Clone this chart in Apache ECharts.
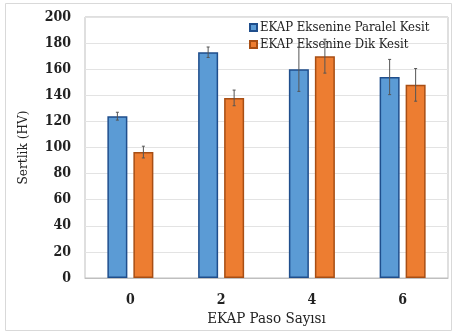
<!DOCTYPE html>
<html><head><meta charset="utf-8">
<script src="https://cdn.jsdelivr.net/npm/echarts@6/dist/echarts.min.js"></script>
<style>html,body{margin:0;padding:0;background:#fff}#c{width:457px;height:333px}</style>
</head><body><div id="c"></div>
<script>
const categories = ['0', '2', '4', '6'];
const seriesNames = ['EKAP Eksenine Paralel Kesit', 'EKAP Eksenine Dik Kesit'];
const paralelValues = [124, 173, 160, 154];
const paralelErrors = [3, 4, 17, 13.5];
const dikValues = [96.5, 138, 170, 148];
const dikErrors = [4.5, 6, 13, 12.5];
const yTicks = { min: 0, max: 200, interval: 20 };
const axisTitles = { x: 'EKAP Paso Sayısı', y: 'Sertlik (HV)' };

const FONT = "'DejaVu Serif Condensed', 'DejaVu Serif', serif";
const BAR_W = 20, GAP = 6;
const offsets = [-(BAR_W + GAP) / 2, (BAR_W + GAP) / 2];

function errSeries(values, errors, si) {
  return {
    type: 'custom',
    z: 5,
    silent: true,
    data: values.map((v, i) => [i, v, errors[i]]),
    renderItem: function (params, api) {
      const i = api.value(0), v = api.value(1), e = api.value(2);
      const hi = api.coord([i, v + e]);
      const lo = api.coord([i, v - e]);
      const x = hi[0] + offsets[si];
      const cap = 1.5;
      const st = { stroke: '#555', lineWidth: 1 };
      return { type: 'group', children: [
        { type: 'line', shape: { x1: x, y1: hi[1], x2: x, y2: lo[1] }, style: st },
        { type: 'line', shape: { x1: x - cap, y1: hi[1], x2: x + cap, y2: hi[1] }, style: st },
        { type: 'line', shape: { x1: x - cap, y1: lo[1], x2: x + cap, y2: lo[1] }, style: st }
      ]};
    }
  };
}

const chart = echarts.init(document.getElementById('c'));
chart.setOption({
  animation: false,
  textStyle: { fontFamily: FONT },
  graphic: [{
    type: 'rect', shape: { x: 5.5, y: 3.5, width: 446, height: 327 },
    style: { fill: 'none', stroke: '#d9d9d9', lineWidth: 1 }, z: -10
  }],
  grid: { left: 85, right: 9, top: 17, bottom: 55, show: true, borderColor: '#bfbfbf', borderWidth: 1,
          outerBoundsMode: 'none', containLabel: false },
  legend: {
    orient: 'vertical', left: 244, top: 16, itemGap: 4,
    itemWidth: 7, itemHeight: 7, icon: 'rect',
    textStyle: { fontFamily: FONT, fontSize: 13, color: '#222', padding: [0, 0, 0, -2] },
    data: seriesNames
  },
  xAxis: {
    type: 'category', data: categories,
    axisLine: { lineStyle: { color: '#bfbfbf' } },
    axisTick: { show: false },
    axisLabel: { color: '#222', fontSize: 14, fontWeight: 'bold', margin: 15, fontFamily: FONT },
    name: axisTitles.x, nameLocation: 'middle', nameGap: 34,
    nameTextStyle: { color: '#222', fontSize: 15, fontFamily: FONT }
  },
  yAxis: {
    type: 'value', min: yTicks.min, max: yTicks.max, interval: yTicks.interval,
    axisLine: { show: false }, axisTick: { show: false },
    splitLine: { lineStyle: { color: '#e3e3e3' } },
    axisLabel: { color: '#222', fontSize: 14, fontWeight: 'bold', margin: 14, fontFamily: FONT },
    name: axisTitles.y, nameLocation: 'middle', nameGap: 55, nameRotate: 90,
    nameTextStyle: { color: '#222', fontSize: 13.5, fontFamily: FONT }
  },
  series: [
    { name: seriesNames[0], type: 'bar', data: paralelValues, barWidth: BAR_W, barGap: '30%',
      itemStyle: { color: '#5B9BD5', borderColor: '#1F4E8C', borderWidth: 1.5 } },
    { name: seriesNames[1], type: 'bar', data: dikValues, barWidth: BAR_W,
      itemStyle: { color: '#ED7D31', borderColor: '#A84E14', borderWidth: 1.5 } },
    errSeries(paralelValues, paralelErrors, 0),
    errSeries(dikValues, dikErrors, 1)
  ]
});
</script></body></html>
